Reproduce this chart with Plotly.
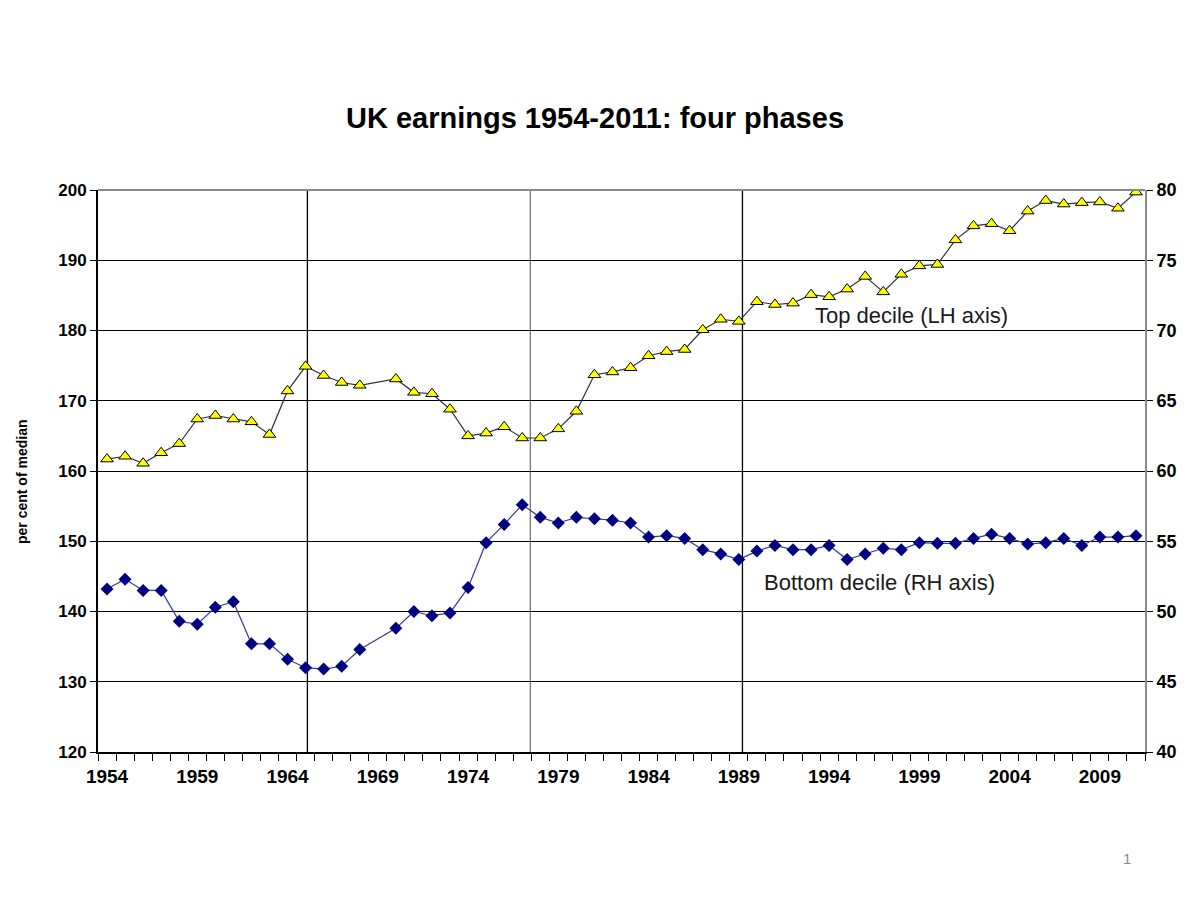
import plotly.graph_objects as go

# years (1969 has no observation in the source series)
years = [y for y in range(1954, 2012) if y != 1969]

# top decile, per cent of median (left axis)
top_decile = [
    161.7, 162.1, 161.1, 162.6, 163.9, 167.4, 167.9, 167.4, 167.0, 165.2,
    171.4, 174.9, 173.6, 172.6, 172.2, 173.1, 171.2, 171.0, 168.8, 165.0,
    165.4, 166.3, 164.7, 164.7, 166.0, 168.5, 173.7, 174.1, 174.7, 176.4,
    177.0, 177.3, 180.1, 181.6, 181.3, 184.1, 183.7, 183.9, 185.1, 184.8,
    185.9, 187.7, 185.5, 188.0, 189.2, 189.4, 192.9, 194.9, 195.2, 194.2,
    197.0, 198.5, 198.0, 198.2, 198.3, 197.4, 199.7,
]

# bottom decile, per cent of median (right axis)
bottom_decile = [
    51.6, 52.3, 51.5, 51.5, 49.3, 49.1, 50.3, 50.7, 47.7, 47.7,
    46.6, 46.0, 45.9, 46.1, 47.3, 48.8, 50.0, 49.7, 49.9, 51.7,
    54.9, 56.2, 57.6, 56.7, 56.3, 56.7, 56.6, 56.5, 56.3, 55.3,
    55.4, 55.2, 54.4, 54.1, 53.7, 54.3, 54.7, 54.4, 54.4, 54.7,
    53.7, 54.1, 54.5, 54.4, 54.9, 54.85, 54.85, 55.2, 55.5, 55.2,
    54.8, 54.9, 55.2, 54.7, 55.3, 55.3, 55.4,
]

label_years = list(range(1954, 2012, 5))
phase_breaks = [1965.1, 1977.45, 1989.2]

FONT = "Liberation Sans, Arial, sans-serif"

# the page body adds an 8px offset, so margins are trimmed by 8
W, H = 1200, 900
L, R, T, B = 90, 63, 182, 156
PW, PH = W - L - R, H - T - B


def px_to_paper(px, py):
    """screen pixel -> paper coordinates of the plot area"""
    return (px - 8 - L) / PW, (H - B - (py - 8)) / PH


fig = go.Figure()

fig.add_trace(go.Scatter(
    x=years, y=top_decile, name="Top decile", mode="lines+markers",
    line=dict(color="#333333", width=1.2),
    marker=dict(symbol="triangle-up", size=11, color="#FFFF00",
                line=dict(color="#000000", width=1)),
    yaxis="y",
))

fig.add_trace(go.Scatter(
    x=years, y=bottom_decile, name="Bottom decile", mode="lines+markers",
    line=dict(color="#3a3a90", width=1.2),
    marker=dict(symbol="diamond", size=10, color="#000080",
                line=dict(color="#000080", width=0)),
    yaxis="y2",
))

# phase boundaries
for i, xb in enumerate(phase_breaks):
    fig.add_shape(type="line", xref="x", yref="y domain", x0=xb, x1=xb,
                  y0=0, y1=1, layer="below",
                  line=dict(color="#777777" if i == 1 else "#000000",
                            width=1.3))

# grey top border
fig.add_shape(type="line", xref="paper", yref="paper", x0=0, x1=1,
              y0=1, y1=1, line=dict(color="#8a8a8a", width=2))

fig.add_annotation(x=1993.1, y=182.1, xref="x", yref="y",
                   text="Top decile (LH axis)", showarrow=False,
                   xanchor="left", yanchor="middle",
                   font=dict(family=FONT, size=22, color="#1a1a1a"))
fig.add_annotation(x=1990.3, y=144.2, xref="x", yref="y",
                   text="Bottom decile (RH axis)", showarrow=False,
                   xanchor="left", yanchor="middle",
                   font=dict(family=FONT, size=22, color="#1a1a1a"))
ax, ay = px_to_paper(22, 482)
fig.add_annotation(x=ax, y=ay, xref="paper", yref="paper",
                   text="<b>per cent of median</b>", showarrow=False,
                   textangle=-90, xanchor="center", yanchor="middle",
                   font=dict(family=FONT, size=14, color="#000000"))
nx, ny = px_to_paper(1127, 858)
fig.add_annotation(x=nx, y=ny, xref="paper", yref="paper",
                   text="1", showarrow=False,
                   xanchor="center", yanchor="middle",
                   font=dict(family=FONT, size=15, color="#8a8a8a"))

fig.update_layout(
    width=W, height=H,
    margin=dict(l=L, r=R, t=T, b=B),
    paper_bgcolor="white", plot_bgcolor="white",
    showlegend=False,
    title=dict(text="<b>UK earnings 1954-2011: four phases</b>",
               x=(595 - 8) / W, xanchor="center",
               y=1 - (118 - 8) / H, yanchor="middle",
               font=dict(family=FONT, size=29, color="#000000")),
    xaxis=dict(
        range=[1953.5, 2011.5], tickvals=label_years,
        ticktext=[str(y) for y in label_years],
        ticks="", showgrid=False, zeroline=False,
        showline=True, linecolor="#000000", linewidth=2,
        ticklabelstandoff=6,
        tickfont=dict(family=FONT, size=19, color="#000000", weight="bold"),
        minor=dict(tick0=1953.5, dtick=1, ticks="outside", ticklen=7,
                   tickcolor="#000000", tickwidth=1, showgrid=False),
    ),
    yaxis=dict(
        range=[120, 200], dtick=10, ticks="outside", ticklen=6,
        tickcolor="#000000", showline=True, linecolor="#000000",
        linewidth=2, showgrid=True, gridcolor="#000000", gridwidth=1.3,
        zeroline=False,
        tickfont=dict(family=FONT, size=17, color="#000000", weight="bold"),
    ),
    yaxis2=dict(
        range=[40, 80], dtick=5, overlaying="y", side="right",
        ticks="outside", ticklen=6, tickcolor="#000000",
        showline=True, linecolor="#8a8a8a", linewidth=2,
        showgrid=False, zeroline=False,
        tickfont=dict(family=FONT, size=18, color="#000000", weight="bold"),
    ),
)

fig.write_html("out.html")
